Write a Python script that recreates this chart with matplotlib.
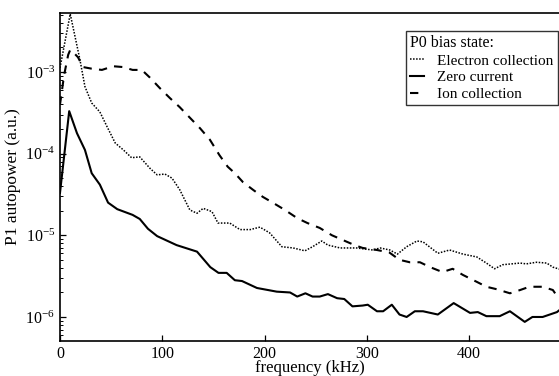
import numpy as np
import matplotlib
matplotlib.use("Agg")
import matplotlib.pyplot as plt
from matplotlib.ticker import LogLocator, FixedLocator, NullFormatter

plt.rcParams['font.family'] = ['Liberation Serif', 'DejaVu Serif']
plt.rcParams['mathtext.fontset'] = 'custom'
plt.rcParams['mathtext.rm'] = 'Liberation Serif'
plt.rcParams['mathtext.it'] = 'Liberation Serif:italic'

# ---- data (frequency in kHz, power given as log10 of autopower) ----
freq_electron = [0, 10, 19.5, 24.4, 31, 39, 46, 54, 62, 70, 78, 88, 95, 102.6, 109.5,
                 117, 127, 134, 140, 148.6, 154.5, 166, 176, 186, 195.5, 205, 217, 228,
                 239.5, 247, 256, 262, 274, 290, 306, 313, 322.6, 330, 339, 349, 355,
                 369.5, 381, 394, 407.6, 417, 425, 433, 450, 456, 466, 476, 482, 490]
log_electron = [-2.95, -2.29, -2.85, -3.18, -3.38, -3.49, -3.67, -3.87, -3.955, -4.05,
                -4.04, -4.18, -4.26, -4.25, -4.30, -4.44, -4.69, -4.73, -4.67, -4.71,
                -4.85, -4.85, -4.93, -4.93, -4.90, -4.97, -5.14, -5.155, -5.19, -5.14,
                -5.07, -5.12, -5.155, -5.155, -5.18, -5.155, -5.18, -5.23, -5.14, -5.07,
                -5.08, -5.22, -5.18, -5.23, -5.265, -5.34, -5.41, -5.36, -5.34, -5.35,
                -5.33, -5.34, -5.39, -5.42]

freq_zero = [0, 9, 16.6, 24.4, 31, 39, 47, 56, 71, 78, 86, 95, 114, 134, 147, 155, 163,
             171, 178, 192.6, 212, 225, 232, 240, 247, 254, 262, 271, 278, 286, 296, 301,
             310, 316, 324.5, 332, 339, 347, 355, 369.5, 385, 401, 408.6, 417, 430, 440,
             454.5, 462, 472, 486, 490]
log_zero = [-4.48, -3.48, -3.75, -3.955, -4.24, -4.38, -4.60, -4.68, -4.75, -4.80, -4.92,
            -5.01, -5.12, -5.20, -5.39, -5.46, -5.46, -5.55, -5.56, -5.645, -5.69, -5.70,
            -5.75, -5.71, -5.75, -5.75, -5.72, -5.77, -5.78, -5.87, -5.86, -5.85, -5.93,
            -5.93, -5.85, -5.97, -6.00, -5.93, -5.93, -5.97, -5.83, -5.95, -5.94, -5.99,
            -5.99, -5.93, -6.06, -6.00, -6.00, -5.94, -5.90]

freq_ion = [0, 4, 8, 10, 12.7, 17.6, 22.5, 31, 41, 52, 61.6, 71, 80, 88, 97.8, 107.5,
            117, 127, 137, 146.6, 156, 164, 171, 179, 189, 198.4, 208, 220, 232, 242,
            254, 266, 277, 288, 296, 310, 322, 332, 342, 352, 362, 374, 384, 394, 407.6,
            417, 427, 440, 450, 459, 472, 482, 488]
log_ion = [-3.40, -3.04, -2.79, -2.73, -2.755, -2.82, -2.94, -2.96, -2.975, -2.93, -2.94,
           -2.975, -2.975, -3.07, -3.20, -3.32, -3.43, -3.56, -3.69, -3.83, -4.02, -4.16,
           -4.24, -4.35, -4.445, -4.53, -4.60, -4.69, -4.79, -4.85, -4.91, -5.00, -5.06,
           -5.12, -5.155, -5.18, -5.21, -5.30, -5.33, -5.33, -5.39, -5.45, -5.41, -5.485,
           -5.57, -5.63, -5.66, -5.71, -5.67, -5.63, -5.63, -5.67, -5.78]

labels = ["Electron collection", "Zero current", "Ion collection"]
legend_title = "P0 bias state:"
x_ticks = [0, 100, 200, 300, 400]

fig = plt.figure(figsize=(5.59, 3.76), dpi=100)
ax = fig.add_axes([60 / 559, 1 - 341 / 376, 1 - 60 / 559, (341 - 13) / 376])

ax.plot(freq_electron, np.power(10.0, log_electron), color='black', lw=1.1,
        linestyle=(0, (1, 1)), label=labels[0])
ax.plot(freq_zero, np.power(10.0, log_zero), color='black', lw=1.5,
        linestyle='-', label=labels[1])
ax.plot(freq_ion, np.power(10.0, log_ion), color='black', lw=1.5,
        linestyle=(0, (4, 3.5)), label=labels[2])

ax.set_yscale('log')
ax.set_xlim(0, 488)
ax.set_ylim(5.08e-7, 5.27e-3)
ax.xaxis.set_major_locator(FixedLocator(x_ticks))
ax.yaxis.set_major_locator(LogLocator(base=10, numticks=10))
ax.yaxis.set_minor_locator(LogLocator(base=10, subs=np.arange(2, 10), numticks=20))
ax.yaxis.set_minor_formatter(NullFormatter())
ax.tick_params(axis='both', which='both', direction='in', labelsize=11.5, color='black')
ax.tick_params(axis='both', which='major', length=4, width=0.9)
ax.tick_params(axis='y', which='minor', length=2.5, width=0.7)
ax.tick_params(axis='x', which='major', pad=3.5)
for s in ['left', 'bottom', 'top']:
    ax.spines[s].set_linewidth(1.2)
ax.spines['right'].set_visible(False)

ax.set_xlabel("frequency (kHz)", fontsize=12, labelpad=-1)
ax.set_ylabel("P1 autopower (a.u.)", fontsize=12.5, labelpad=3)

leg = ax.legend(title=legend_title, loc='upper left', bbox_to_anchor=(346 / 499, 1 - 18 / 328),
                fontsize=11, title_fontsize=11.5, frameon=True, fancybox=False,
                handlelength=0.9, handletextpad=0.9, borderpad=0.25, labelspacing=0.2,
                borderaxespad=0)
leg._legend_box.align = "left"
leg.get_frame().set_edgecolor('black')
leg.get_frame().set_linewidth(1.0)

fig.savefig("out.png", dpi=100)
